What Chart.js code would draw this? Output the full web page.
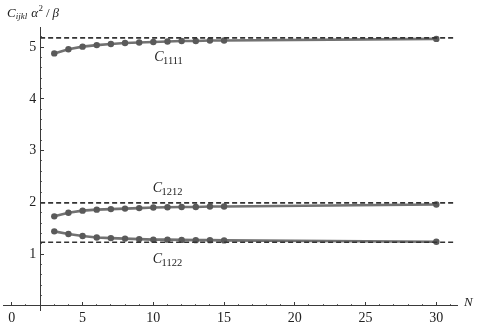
<!DOCTYPE html>
<html><head><meta charset="utf-8">
<script src="https://cdn.jsdelivr.net/npm/chart.js@4.4.1/dist/chart.umd.min.js"></script>
<style>html,body{margin:0;padding:0;background:#fff}#wrap{width:479px;height:325px;position:relative}</style>
</head><body><div id="wrap"><canvas id="c" width="479" height="325"></canvas></div>
<script>
// ---- data ----
const N = [3, 4, 5, 6, 7, 8, 9, 10, 11, 12, 13, 14, 15, 30];
const C1111 = [4.88, 4.96, 5.01, 5.04, 5.06, 5.08, 5.09, 5.10, 5.11, 5.12, 5.12, 5.13, 5.13, 5.16];
const C1212 = [1.73, 1.80, 1.84, 1.86, 1.87, 1.88, 1.89, 1.90, 1.905, 1.91, 1.91, 1.92, 1.92, 1.96];
const C1122 = [1.44, 1.39, 1.35, 1.32, 1.31, 1.30, 1.29, 1.28, 1.28, 1.275, 1.27, 1.27, 1.265, 1.24];
const limitValues = [5.18, 1.99, 1.23];          // C1111, C1212, C1122 limits (dashed)
const limitRange = [2, 31.2];                    // N span of the dashed limit lines
const seriesNames = ['1111', '1212', '1122'];
const xTicks = [0, 5, 10, 15, 20, 25, 30];
const xMinorTicks = [1, 3, 4, 6, 7, 8, 9, 11, 12, 13, 14, 16, 17, 18, 19, 21, 22, 23, 24, 26, 27, 28, 29, 31];
const yTicks = [1, 2, 3, 4, 5];
const yMinorTicks = [0.2, 0.4, 0.6, 0.8, 1.2, 1.4, 1.6, 1.8, 2.2, 2.4, 2.6, 2.8, 3.2, 3.4, 3.6, 3.8, 4.2, 4.4, 4.6, 4.8, 5.2];

// ---- styling ----
const X_MIN = -0.61, X_MAX = 31.46, Y_MIN = -0.08, Y_MAX = 5.39;
const SERIF = "'Liberation Serif', 'DejaVu Serif', serif";
const AXIS = '#3a3a3a';
const LINE = '#727272';
const POINT = '#5a5a5a';

const pts = arr => N.map((n, i) => ({x: n, y: arr[i]}));
const series = [C1111, C1212, C1122];
const datasets = [];
series.forEach((s, k) => {
  datasets.push({
    label: 'C' + seriesNames[k], data: pts(s), borderColor: LINE, borderWidth: 2.6,
    pointRadius: 3.2, pointBackgroundColor: POINT, pointBorderWidth: 0, pointHoverRadius: 3.2,
    tension: 0, order: 1
  });
});
limitValues.forEach((v, k) => {
  datasets.push({
    label: 'lim' + seriesNames[k], data: limitRange.map(n => ({x: n, y: v})),
    borderColor: '#333', borderWidth: 1.6, borderDash: [5, 3], pointRadius: 0, tension: 0, order: 0
  });
});

function zeroW(s) { s.width = 0; }
function zeroH(s) { s.height = 0; }
const setTicks = arr => s => { s.ticks = arr.map(v => ({value: v})); };

const labelPos = [ {n: 10.06, y: 4.73}, {n: 9.96, y: 2.2}, {n: 9.96, y: 0.83} ];

const textPlugin = {
  id: 'texts',
  afterDraw(chart) {
    const ctx = chart.ctx, xs = chart.scales.x, ys = chart.scales.y;
    ctx.save();
    ctx.fillStyle = '#222';
    ctx.textBaseline = 'alphabetic';
    ctx.textAlign = 'left';
    // series labels
    labelPos.forEach((p, k) => {
      const px = xs.getPixelForValue(p.n), py = ys.getPixelForValue(p.y);
      ctx.font = 'italic 14px ' + SERIF;
      ctx.fillText('C', px, py);
      const w = ctx.measureText('C').width;
      ctx.font = '10.5px ' + SERIF;
      ctx.fillText(seriesNames[k], px + w - 0.5, py + 3);
    });
    // axis title (top-left)
    let x = 7, b = 17;
    ctx.font = 'italic 13px ' + SERIF; ctx.fillText('C', x, b); x += ctx.measureText('C').width;
    ctx.font = 'italic 9px ' + SERIF; ctx.fillText('ijkl', x, b + 2); x += ctx.measureText('ijkl').width + 4;
    ctx.font = 'italic 13px ' + SERIF; ctx.fillText('α', x, b); x += ctx.measureText('α').width + 0.5;
    ctx.font = '9px ' + SERIF; ctx.fillText('2', x, b - 6); x += ctx.measureText('2').width + 3;
    ctx.font = '13px ' + SERIF; ctx.fillText('/', x, b); x += ctx.measureText('/').width + 3;
    ctx.font = 'italic 13px ' + SERIF; ctx.fillText('β', x, b);
    // x axis title
    ctx.font = 'italic 13px ' + SERIF;
    ctx.fillText('N', chart.chartArea.right + 7, ys.getPixelForValue(0));
    ctx.restore();
  }
};

new Chart(document.getElementById('c'), {
  type: 'line',
  data: { datasets },
  plugins: [textPlugin],
  options: {
    responsive: false, animation: false, devicePixelRatio: 1,
    layout: { padding: { left: 0, right: 22, top: 27, bottom: 15 } },
    plugins: { legend: { display: false }, tooltip: { enabled: false } },
    scales: {
      x: {
        type: 'linear', axis: 'x', position: { y: 0 }, min: X_MIN, max: X_MAX,
        afterFit: zeroH, afterBuildTicks: setTicks(xTicks),
        grid: { drawOnChartArea: false, tickLength: -4, tickColor: AXIS, tickWidth: 1 },
        border: { display: true, color: AXIS, width: 1 },
        ticks: { padding: 8, color: '#222', font: { family: SERIF, size: 14 }, maxRotation: 0, autoSkip: false }
      },
      xMinor: {
        type: 'linear', axis: 'x', position: { y: 0 }, min: X_MIN, max: X_MAX,
        afterFit: zeroH, afterBuildTicks: setTicks(xMinorTicks),
        grid: { drawOnChartArea: false, tickLength: -2, tickColor: '#666', tickWidth: 1 },
        border: { display: false }, ticks: { display: false }
      },
      y: {
        type: 'linear', axis: 'y', position: { x: 2 }, min: Y_MIN, max: Y_MAX,
        afterFit: zeroW, afterBuildTicks: setTicks(yTicks),
        grid: { drawOnChartArea: false, tickLength: -4, tickColor: AXIS, tickWidth: 1 },
        border: { display: true, color: AXIS, width: 1 },
        ticks: { display: false }
      },
      yMinor: {
        type: 'linear', axis: 'y', position: { x: 2 }, min: Y_MIN, max: Y_MAX,
        afterFit: zeroW, afterBuildTicks: setTicks(yMinorTicks),
        grid: { drawOnChartArea: false, tickLength: -2, tickColor: '#666', tickWidth: 1 },
        border: { display: false }, ticks: { display: false }
      },
      yLabels: {
        type: 'linear', axis: 'y', position: { x: 1.72 }, min: Y_MIN, max: Y_MAX,
        afterFit: zeroW, afterBuildTicks: setTicks(yTicks),
        grid: { display: false, drawTicks: false }, border: { display: false },
        ticks: { padding: 0, color: '#222', font: { family: SERIF, size: 14 } }
      }
    }
  }
});
</script></body></html>
